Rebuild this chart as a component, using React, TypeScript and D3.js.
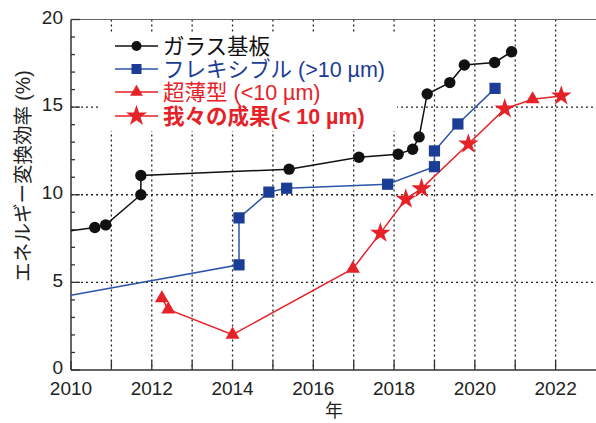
import React from "react";
import * as d3 from "d3";

const glassYears = [2010.59, 2010.86, 2011.73, 2011.73, 2015.4, 2017.13, 2018.1, 2018.46, 2018.62, 2018.82, 2019.38, 2019.74, 2020.49, 2020.91];
const glassValues = [8.13, 8.28, 10.0, 11.1, 11.46, 12.14, 12.31, 12.6, 13.3, 15.75, 16.4, 17.4, 17.55, 18.16];
const glassLineStart = [2010, 7.95];

const flexYears = [2014.16, 2014.16, 2014.9, 2015.34, 2017.84, 2019.0, 2019.0, 2019.58, 2020.5];
const flexValues = [6.0, 8.68, 10.15, 10.37, 10.6, 11.6, 12.5, 14.04, 16.07];
const flexLineStart = [2010, 4.26];

const thinYears = [2012.25, 2012.41, 2014.0, 2016.98, 2021.43];
const thinValues = [4.09, 3.46, 2.02, 5.78, 15.45];

const oursYears = [2017.66, 2018.29, 2018.68, 2019.84, 2020.74, 2022.14];
const oursValues = [7.81, 9.75, 10.35, 12.9, 14.9, 15.64];

const xTickYears = [2010, 2011, 2012, 2013, 2014, 2015, 2016, 2017, 2018, 2019, 2020, 2021, 2022];
const xLabelYears = [2010, 2012, 2014, 2016, 2018, 2020, 2022];
const yMajor = [0, 5, 10, 15, 20];
const yGrid = [5, 10, 15];

const legendLabels = ["ガラス基板", "フレキシブル (>10 µm)", "超薄型 (<10 µm)", "我々の成果(< 10 µm)"];
const yTitle = "エネルギー変換効率 (%)";
const xTitle = "年";

const BLACK = "#111";
const BLUE_LINE = "#2b55a8";
const BLUE = "#1b3d95";
const RED = "#e52228";
const FONT = "'Liberation Sans', Arial, 'Noto Sans CJK JP', sans-serif";

export default function App() {
  const W = 596, H = 423;
  const x = d3.scaleLinear().domain([2010, 2023]).range([71, 596]);
  const y = d3.scaleLinear().domain([0, 20]).range([370, 19.5]);
  const line = d3.line<[number, number]>().x(d => x(d[0])).y(d => y(d[1]));

  const glassPts: [number, number][] = glassYears.map((v, i) => [v, glassValues[i]]);
  const flexPts: [number, number][] = flexYears.map((v, i) => [v, flexValues[i]]);
  const thinPts: [number, number][] = thinYears.map((v, i) => [v, thinValues[i]]);
  const oursPts: [number, number][] = oursYears.map((v, i) => [v, oursValues[i]]);
  const redPts = [...thinPts, ...oursPts].sort((a, b) => a[0] - b[0]);

  const star = d3.symbol().type(d3.symbolStar).size(130)();
  const starL = d3.symbol().type(d3.symbolStar).size(140)();
  const tri = d3.symbol().type(d3.symbolTriangle).size(85)();
  const triL = d3.symbol().type(d3.symbolTriangle).size(70)();

  const yMinor = d3.range(0, 21, 1);
  const x0 = 71, x1 = 596, yb = 370, yt = 19.5;

  const legendY = [46, 69, 92, 116];
  const lx0 = 115, lx1 = 158, lmx = 136.5, ltx = 163;

  return (
    <svg width={W} height={H} style={{ position: "absolute", left: 0, top: 0, background: "#fff" }} fontFamily={FONT}>
      <rect x={0} y={0} width={W} height={H} fill="#fff" />
      {/* grid */}
      {xTickYears.slice(1).map(v => (
        <line key={"gx" + v} x1={x(v)} x2={x(v)} y1={yt} y2={yb} stroke="#222" strokeWidth={1.3} strokeDasharray="2,3" />
      ))}
      {yGrid.map(v => (
        <line key={"gy" + v} x1={x0} x2={x1} y1={y(v)} y2={y(v)} stroke="#222" strokeWidth={1.3} strokeDasharray="2,3" />
      ))}
      {/* legend background */}
      <rect x={100} y={32} width={297} height={99} fill="#fff" />
      {/* frame */}
      <line x1={x0} x2={x1} y1={yt} y2={yt} stroke="#666" strokeWidth={1.2} />
      <line x1={x0} x2={x0} y1={yt} y2={yb} stroke="#333" strokeWidth={1.5} />
      <line x1={x0} x2={x1} y1={yb} y2={yb} stroke="#333" strokeWidth={1.5} />
      {/* ticks */}
      {yMinor.map(v => (
        <line key={"ty" + v} x1={x0} x2={x0 + (v % 5 === 0 ? 9 : 4)} y1={y(v)} y2={y(v)} stroke="#333" strokeWidth={1.3} />
      ))}
      {xTickYears.map(v => (
        <line key={"tx" + v} x1={x(v)} x2={x(v)} y1={yb} y2={yb - 9} stroke="#333" strokeWidth={1.3} />
      ))}
      {yMajor.map(v => (
        <text key={"ly" + v} x={63} y={y(v) - 2} dy="0.33em" textAnchor="end" fontSize={19} fill="#222">{v}</text>
      ))}
      {xLabelYears.map(v => (
        <text key={"lx" + v} x={x(v)} y={395} textAnchor="middle" fontSize={19} fill="#222">{v}</text>
      ))}
      <text x={334} y={417} textAnchor="middle" fontSize={18} fill="#222">{xTitle}</text>
      <text transform="translate(23,176) rotate(-90)" textAnchor="middle" dy="0.35em" fontSize={19.5} fill="#222">{yTitle}</text>

      {/* series lines */}
      <path d={line([glassLineStart as [number, number], ...glassPts]) || ""} fill="none" stroke={BLACK} strokeWidth={1.5} />
      <path d={line([flexLineStart as [number, number], ...flexPts]) || ""} fill="none" stroke={BLUE_LINE} strokeWidth={1.5} />
      <path d={line(redPts) || ""} fill="none" stroke={RED} strokeWidth={1.5} />

      {/* markers */}
      {glassPts.map((p, i) => <circle key={"c" + i} cx={x(p[0])} cy={y(p[1])} r={5.7} fill={BLACK} />)}
      {flexPts.map((p, i) => <rect key={"s" + i} x={x(p[0]) - 5.6} y={y(p[1]) - 5.6} width={11.2} height={11.2} fill={BLUE} />)}
      {thinPts.map((p, i) => <path key={"t" + i} d={tri || ""} transform={`translate(${x(p[0])},${y(p[1])})`} fill={RED} />)}
      {oursPts.map((p, i) => <path key={"st" + i} d={star || ""} transform={`translate(${x(p[0])},${y(p[1])})`} fill={RED} />)}

      {/* legend */}
      <g>
        <line x1={lx0} x2={lx1} y1={legendY[0]} y2={legendY[0]} stroke={BLACK} strokeWidth={1.5} />
        <circle cx={lmx} cy={legendY[0]} r={5} fill={BLACK} />
        <text x={ltx} y={legendY[0]} dy="0.36em" fontSize={21.5} fill="#111">{legendLabels[0]}</text>

        <line x1={lx0} x2={lx1} y1={legendY[1]} y2={legendY[1]} stroke={BLUE_LINE} strokeWidth={1.5} />
        <rect x={lmx - 5} y={legendY[1] - 5} width={10} height={10} fill={BLUE} />
        <text x={ltx} y={legendY[1]} dy="0.36em" fontSize={21.5} fill={BLUE}>{legendLabels[1]}</text>

        <line x1={lx0} x2={lx1} y1={legendY[2]} y2={legendY[2]} stroke={RED} strokeWidth={1.5} />
        <path d={triL || ""} transform={`translate(${lmx},${legendY[2]})`} fill={RED} />
        <text x={ltx} y={legendY[2]} dy="0.36em" fontSize={21.5} fill={RED}>{legendLabels[2]}</text>

        <line x1={lx0} x2={lx1} y1={legendY[3]} y2={legendY[3]} stroke={RED} strokeWidth={1.5} />
        <path d={starL || ""} transform={`translate(${lmx},${legendY[3]})`} fill={RED} />
        <text x={ltx} y={legendY[3]} dy="0.36em" fontSize={21.5} fontWeight="bold" fill={RED}>{legendLabels[3]}</text>
      </g>
    </svg>
  );
}
